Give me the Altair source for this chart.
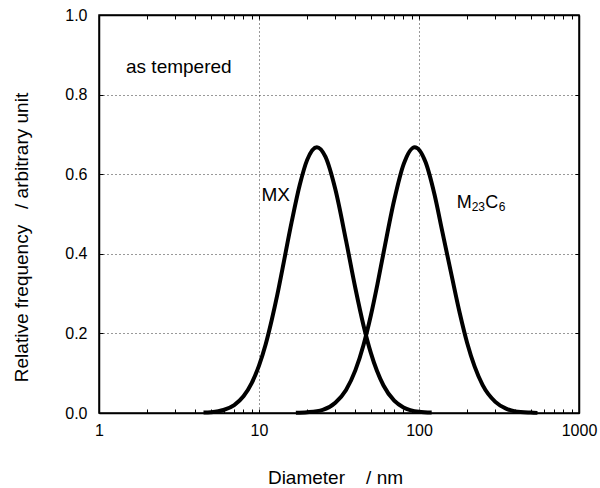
import altair as alt
import pandas as pd

# ---- data ----
mx_diameter = [4.5, 5, 6, 7, 8, 9, 10, 11, 12, 13, 14, 16, 18, 20, 23, 26, 30, 35, 40, 45, 50, 60, 70, 80, 100, 120]
mx_freq = [0.001, 0.002, 0.0075, 0.020, 0.042, 0.075, 0.119, 0.172, 0.233, 0.296, 0.361, 0.480, 0.574, 0.636,
           0.668, 0.644, 0.562, 0.433, 0.314, 0.220, 0.151, 0.069, 0.031, 0.014, 0.003, 0.001]
m23_diameter = [17, 20, 25, 30, 35, 40, 45, 50, 55, 60, 70, 80, 94, 110, 125, 140, 160, 180, 200, 250, 300, 350, 400, 500, 550]
m23_freq = [0.0005, 0.002, 0.008, 0.026, 0.058, 0.107, 0.171, 0.245, 0.324, 0.402, 0.535, 0.624, 0.668, 0.630,
            0.549, 0.455, 0.345, 0.250, 0.176, 0.070, 0.028, 0.011, 0.004, 0.001, 0.0003]

x_ticks = [1, 2, 3, 4, 5, 6, 7, 8, 9, 10, 20, 30, 40, 50, 60, 70, 80, 90,
           100, 200, 300, 400, 500, 600, 700, 800, 900, 1000]
x_labelled = [1, 10, 100, 1000]
y_ticks = [0.0, 0.2, 0.4, 0.6, 0.8, 1.0]

FONT = "Liberation Sans"

df = pd.concat([
    pd.DataFrame({"d": mx_diameter, "f": mx_freq, "s": "MX"}),
    pd.DataFrame({"d": m23_diameter, "f": m23_freq, "s": "M23C6"}),
])

xscale = alt.Scale(type="log", domain=[1, 1000], nice=False)
yscale = alt.Scale(domain=[0, 1], nice=False, zero=False)

label_test = " || ".join(f"datum.value == {v}" for v in x_labelled)
grid_test = "datum.value == 10 || datum.value == 100"
inward = alt.ExprRef(expr="-4")

bottom_axis = alt.Axis(
    orient="bottom", values=x_ticks,
    labelExpr=f"({label_test}) ? '' + datum.value : ''",
    labelOverlap=False, labelFlush=False,
    labelFont=FONT, labelFontSize=16, labelColor="black", labelPadding=13,
    tickSize=inward, tickColor="black", tickWidth=1,
    domainColor="black", domainWidth=1.5,
    grid=True, gridDash=[1, 3], gridColor="#333", gridWidth=1,
    gridOpacity={"condition": {"test": grid_test, "value": 1}, "value": 0},
    title="Diameter\u00a0\u00a0\u00a0\u00a0/ nm", titleFont=FONT, titleFontSize=19,
    titleFontWeight="normal", titleColor="black",
    titleX=236, titleY=70, titleBaseline="alphabetic",
)
left_axis = alt.Axis(
    orient="left", values=y_ticks, format=".1f",
    labelFont=FONT, labelFontSize=16, labelColor="black", labelPadding=16,
    labelFlush=False, labelOverlap=False,
    tickSize=inward, tickColor="black",
    domainColor="black", domainWidth=1.5,
    grid=True, gridDash=[1, 3], gridColor="#333", gridWidth=1,
    title="Relative frequency\u00a0\u00a0\u00a0/ arbitrary unit", titleFont=FONT, titleFontSize=19,
    titleFontWeight="normal", titleColor="black",
    titleX=-72, titleY=222, titleAlign="center", titleBaseline="alphabetic", titleAngle=270,
)
top_axis = alt.Axis(orient="top", values=x_ticks, labels=False, grid=False, title=None,
                    tickSize=inward, tickColor="black", domainColor="black", domainWidth=1.5)
right_axis = alt.Axis(orient="right", values=y_ticks, labels=False, grid=False, title=None,
                      tickSize=inward, tickColor="black", domainColor="black", domainWidth=1.5)

curves = alt.Chart(df).mark_line(color="black", strokeWidth=4, interpolate="monotone").encode(
    x=alt.X("d:Q", scale=xscale, axis=bottom_axis),
    y=alt.Y("f:Q", scale=yscale, axis=left_axis),
    detail="s:N",
)
frame = alt.Chart(df).mark_line(opacity=0).encode(
    x=alt.X("d:Q", scale=xscale, axis=top_axis),
    y=alt.Y("f:Q", scale=yscale, axis=right_axis),
    detail="s:N",
)


def label(text, x, y, size=19, align="left", dx=0, dy=0):
    return alt.Chart(pd.DataFrame({"t": [text], "x": [x], "y": [y]})).mark_text(
        font=FONT, fontSize=size, align=align, baseline="alphabetic", color="black", dx=dx, dy=dy
    ).encode(
        x=alt.X("x:Q", scale=xscale, axis=None),
        y=alt.Y("y:Q", scale=yscale, axis=None),
        text="t:N",
    )


texts = [
    label("as tempered", 1.475, 0.854),
    label("MX", 15.6, 0.533, align="right"),
    label("M", 172, 0.515, size=18),
    label("23", 172, 0.515, size=12, dx=15, dy=3),
    label("C", 172, 0.515, size=18, dx=28.5),
    label("6", 172, 0.515, size=12, dx=42, dy=3),
]

chart = alt.layer(curves, frame, *texts).resolve_axis(
    x="independent", y="independent"
).properties(
    width=480, height=398,
    padding={"left": 99, "top": 15, "right": 21, "bottom": 75},
    autosize=alt.AutoSizeParams(type="none"),
    background="white",
).configure_view(stroke="black", strokeWidth=1.5)

chart.save("out.html", embed_options={"renderer": "svg", "actions": False})
